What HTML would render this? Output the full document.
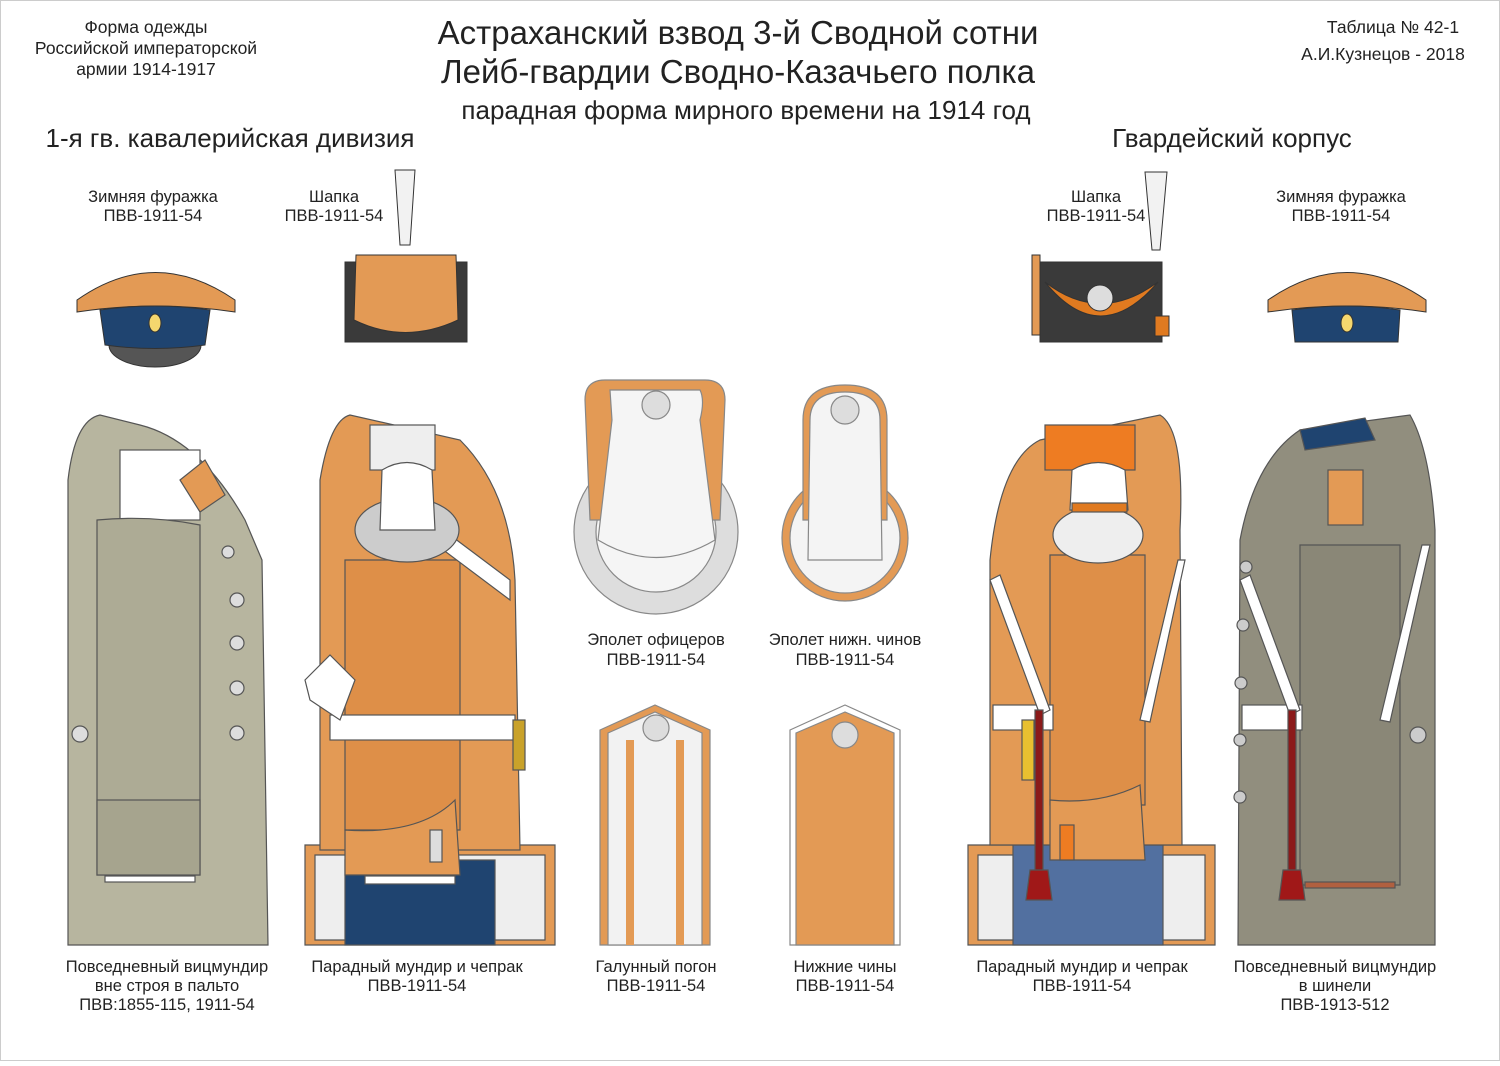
<!DOCTYPE html>
<html><head><meta charset="utf-8"><style>
body{margin:0;background:#fff;width:1500px;height:1061px;overflow:hidden}
svg text{font-family:"Liberation Sans",sans-serif;fill:#222}
</style></head><body>
<svg width="1500" height="1061" viewBox="0 0 1500 1061" xmlns="http://www.w3.org/2000/svg">
<rect x="0.5" y="0.5" width="1499" height="1060" fill="#fff" stroke="#ccc"/>
<g text-anchor="middle" font-size="17.5">
<text x="146" y="33">Форма одежды</text>
<text x="146" y="54">Российской императорской</text>
<text x="146" y="75">армии  1914-1917</text>
<text x="1393" y="33">Таблица № 42-1</text>
<text x="1383" y="60">А.И.Кузнецов - 2018</text>
<text x="738" y="44" font-size="33">Астраханский взвод 3-й Сводной сотни</text>
<text x="738" y="83" font-size="33">Лейб-гвардии Сводно-Казачьего полка</text>
<text x="746" y="119" font-size="26">парадная форма мирного времени на 1914 год</text>
<text x="230" y="147" font-size="26">1-я гв. кавалерийская дивизия</text>
<text x="1232" y="147" font-size="26">Гвардейский корпус</text>
</g>
<g text-anchor="middle" font-size="16.5">
<text x="153" y="202">Зимняя фуражка</text><text x="153" y="221">ПВВ-1911-54</text>
<text x="334" y="202">Шапка</text><text x="334" y="221">ПВВ-1911-54</text>
<text x="1096" y="202">Шапка</text><text x="1096" y="221">ПВВ-1911-54</text>
<text x="1341" y="202">Зимняя фуражка</text><text x="1341" y="221">ПВВ-1911-54</text>
<text x="656" y="645">Эполет офицеров</text><text x="656" y="665">ПВВ-1911-54</text>
<text x="845" y="645">Эполет нижн. чинов</text><text x="845" y="665">ПВВ-1911-54</text>
<text x="167" y="972">Повседневный вицмундир</text><text x="167" y="991">вне строя в пальто</text><text x="167" y="1010">ПВВ:1855-115, 1911-54</text>
<text x="417" y="972">Парадный мундир и чепрак</text><text x="417" y="991">ПВВ-1911-54</text>
<text x="656" y="972">Галунный погон</text><text x="656" y="991">ПВВ-1911-54</text>
<text x="845" y="972">Нижние чины</text><text x="845" y="991">ПВВ-1911-54</text>
<text x="1082" y="972">Парадный мундир и чепрак</text><text x="1082" y="991">ПВВ-1911-54</text>
<text x="1335" y="972">Повседневный вицмундир</text><text x="1335" y="991">в шинели</text><text x="1335" y="1010">ПВВ-1913-512</text>
</g>
<!-- caps -->
<g stroke="#333" stroke-width="1">
<ellipse cx="155" cy="345" rx="46" ry="22" fill="#555"/>
<path d="M77 300 Q155 245 235 300 L235 312 Q155 300 77 312Z" fill="#e39a55"/>
<path d="M100 310 Q155 302 210 310 L205 345 Q155 352 105 345Z" fill="#1f4470"/>
<ellipse cx="155" cy="323" rx="6" ry="9" fill="#f5d76e"/>
<path d="M1268 300 Q1347 245 1426 300 L1426 312 Q1347 300 1268 312Z" fill="#e39a55"/>
<path d="M1292 310 Q1347 302 1400 310 L1398 342 L1295 342Z" fill="#1f4470"/>
<ellipse cx="1347" cy="323" rx="6" ry="9" fill="#f5d76e"/>
<rect x="345" y="262" width="122" height="80" fill="#3a3a3a"/>
<path d="M395 170 L415 170 L410 245 L400 245Z" fill="#f2f2f2"/>
<path d="M356 255 L456 255 L458 320 Q405 345 354 320Z" fill="#e39a55"/>
<rect x="1040" y="262" width="122" height="80" fill="#3a3a3a"/>
<path d="M1032 255 L1040 255 L1040 335 L1032 335Z" fill="#e39a55"/>
<path d="M1145 172 L1167 172 L1160 250 L1152 250Z" fill="#f2f2f2"/>
<path d="M1045 282 Q1100 350 1158 282 Q1100 325 1045 282Z" fill="#e07a20"/>
<circle cx="1100" cy="298" r="13" fill="#ddd"/>
<rect x="1155" y="316" width="14" height="20" fill="#e07a20"/>
</g>
<!-- left coat -->
<g stroke="#555" stroke-width="1.2">
<path d="M68 480 Q75 420 100 415 L140 425 Q200 440 245 520 L262 560 L268 945 L68 945Z" fill="#b7b59f"/>
<rect x="120" y="450" width="80" height="70" fill="#fff"/>
<path d="M97 520 Q150 515 200 525 L200 875 L97 875Z" fill="#adab95"/>
<rect x="97" y="800" width="103" height="75" fill="#a6a48e"/>
<path d="M180 480 L205 460 L225 495 L200 512Z" fill="#e39a55"/>
<g fill="#ddd"><circle cx="237" cy="600" r="7"/><circle cx="237" cy="643" r="7"/><circle cx="237" cy="688" r="7"/><circle cx="237" cy="733" r="7"/><circle cx="228" cy="552" r="6"/><circle cx="80" cy="734" r="8"/></g>
<rect x="105" y="876" width="90" height="6" fill="#fff"/>
</g>
<!-- left parade -->
<g stroke="#555" stroke-width="1.2">
<path d="M305 845 L555 845 L555 945 L305 945Z" fill="#e39a55"/>
<path d="M315 855 L545 855 L545 940 L315 940Z" fill="#eeeeee"/>
<rect x="345" y="860" width="150" height="85" fill="#1f4470"/>
<path d="M320 480 Q330 420 350 415 L460 440 Q510 490 515 580 L520 850 L320 850Z" fill="#e39a55"/>
<rect x="370" y="425" width="65" height="45" fill="#eee"/>
<path d="M345 560 L460 560 L460 830 L345 830Z" fill="#de8f48"/>
<path d="M345 830 Q420 835 455 800 L460 875 L345 875Z" fill="#e39a55"/>
<rect x="365" y="876" width="90" height="8" fill="#fff"/>
<rect x="330" y="715" width="185" height="25" fill="#fff"/>
<path d="M430 520 L510 580 L510 600 L430 540Z" fill="#fff"/>
<ellipse cx="407" cy="530" rx="52" ry="32" fill="#ccc"/>
<path d="M382 470 Q407 455 432 470 L435 530 L380 530Z" fill="#fff"/>
<path d="M305 680 L330 655 L355 680 L340 720 L310 700Z" fill="#fff"/>
<rect x="513" y="720" width="12" height="50" fill="#c9a22a"/>
<rect x="430" y="830" width="12" height="32" fill="#ddd"/>
</g>
<!-- epaulettes -->
<g stroke="#888" stroke-width="1.2">
<circle cx="656" cy="532" r="82" fill="#ddd"/>
<circle cx="656" cy="532" r="60" fill="#f5f5f5"/>
<path d="M585 400 Q585 380 605 380 L705 380 Q725 380 725 400 L720 520 L590 520Z" fill="#e39a55"/>
<path d="M610 390 L700 390 Q705 400 700 420 L715 540 Q656 575 598 540 L612 420Z" fill="#f5f5f5"/>
<circle cx="656" cy="405" r="14" fill="#ddd"/>
<circle cx="845" cy="538" r="63" fill="#e39a55"/>
<circle cx="845" cy="538" r="55" fill="#f4f4f4"/>
<path d="M803 420 Q803 385 845 385 Q887 385 887 420 L887 520 L803 520Z" fill="#e39a55"/>
<path d="M810 420 Q810 392 845 392 Q880 392 880 420 L882 560 L808 560Z" fill="#f4f4f4"/>
<circle cx="845" cy="410" r="14" fill="#ddd"/>
<path d="M600 730 L655 705 L710 730 L710 945 L600 945Z" fill="#e39a55"/>
<path d="M608 733 L655 712 L702 733 L702 945 L608 945Z" fill="#f2f2f2"/>
<rect x="626" y="740" width="8" height="205" fill="#e39a55" stroke="none"/>
<rect x="676" y="740" width="8" height="205" fill="#e39a55" stroke="none"/>
<circle cx="656" cy="728" r="13" fill="#ddd"/>
<path d="M790 730 L845 705 L900 730 L900 945 L790 945Z" fill="#fff"/>
<path d="M796 733 L845 712 L894 733 L894 945 L796 945Z" fill="#e39a55"/>
<circle cx="845" cy="735" r="13" fill="#ddd"/>
</g>
<!-- right parade -->
<g stroke="#555" stroke-width="1.2">
<path d="M968 845 L1215 845 L1215 945 L968 945Z" fill="#e39a55"/>
<path d="M978 855 L1205 855 L1205 940 L978 940Z" fill="#eee"/>
<rect x="1013" y="845" width="150" height="100" fill="#5270a0"/>
<path d="M990 560 Q1000 460 1040 440 L1160 415 Q1185 430 1180 530 L1182 845 L990 845Z" fill="#e39a55"/>
<rect x="1045" y="425" width="90" height="45" fill="#ee7c22"/>
<path d="M1050 555 L1145 555 L1145 805 L1050 805Z" fill="#de8f48"/>
<path d="M1050 800 Q1100 805 1140 785 L1145 860 L1050 860Z" fill="#e39a55"/>
<ellipse cx="1098" cy="535" rx="45" ry="28" fill="#eee"/>
<path d="M1072 470 Q1098 455 1125 470 L1128 510 L1070 510Z" fill="#fff"/>
<rect x="1072" y="503" width="55" height="9" fill="#e07a20"/>
<rect x="993" y="705" width="60" height="25" fill="#fff"/>
<path d="M990 580 L1000 575 L1050 710 L1040 715Z" fill="#fff"/>
<path d="M1185 560 L1178 560 L1140 720 L1150 722Z" fill="#fff"/>
<rect x="1035" y="710" width="8" height="170" fill="#8b1a1a"/>
<path d="M1030 870 L1048 870 L1052 900 L1026 900Z" fill="#a01818"/>
<rect x="1022" y="720" width="12" height="60" fill="#e8c030"/>
<rect x="1060" y="825" width="14" height="35" fill="#ee7c22"/>
</g>
<!-- right gray coat -->
<g stroke="#555" stroke-width="1.2">
<path d="M1238 945 L1240 540 Q1255 460 1300 430 L1410 415 Q1430 450 1435 530 L1435 945Z" fill="#918e7e"/>
<path d="M1300 430 L1365 418 L1375 440 L1305 450Z" fill="#1f4470"/>
<path d="M1300 545 L1400 545 L1400 885 L1300 885Z" fill="#8a8777"/>
<rect x="1328" y="470" width="35" height="55" fill="#e39a55"/>
<rect x="1242" y="705" width="60" height="25" fill="#fff"/>
<path d="M1240 580 L1250 575 L1300 710 L1290 715Z" fill="#fff"/>
<path d="M1430 545 L1422 545 L1380 720 L1390 722Z" fill="#fff"/>
<rect x="1288" y="710" width="8" height="170" fill="#8b1a1a"/>
<path d="M1283 870 L1301 870 L1305 900 L1279 900Z" fill="#a01818"/>
<rect x="1305" y="882" width="90" height="6" fill="#b06040"/>
<g fill="#ccc"><circle cx="1246" cy="567" r="6"/><circle cx="1243" cy="625" r="6"/><circle cx="1241" cy="683" r="6"/><circle cx="1240" cy="740" r="6"/><circle cx="1240" cy="797" r="6"/><circle cx="1418" cy="735" r="8"/></g>
</g>
</svg>
</body></html>
